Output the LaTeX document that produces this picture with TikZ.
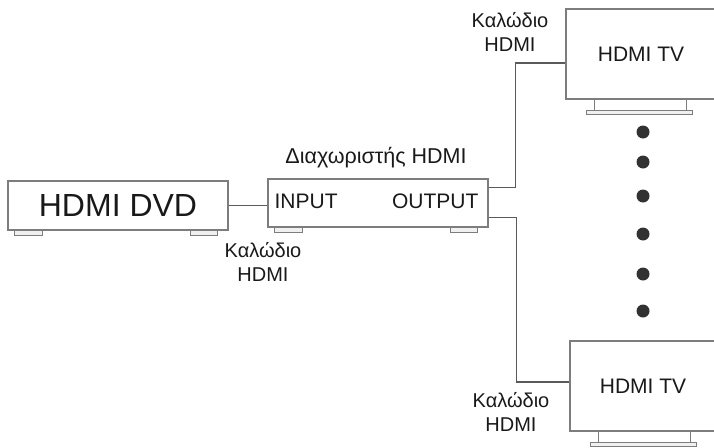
\documentclass[tikz,border=0pt]{standalone}
\usepackage{fontspec}
\setmainfont{Liberation Sans}
\usetikzlibrary{positioning,calc}
\definecolor{LineGray}{RGB}{90,90,90}
\definecolor{BoxGray}{RGB}{125,125,125}
\definecolor{TextDark}{RGB}{25,25,25}
\definecolor{DotDark}{RGB}{50,50,50}

\begin{document}
\begin{tikzpicture}[
    x=1pt, y=-1pt,
    every node/.style={inner sep=0pt, text=TextDark},
    device/.style={draw=BoxGray, line width=1.2pt, rectangle},
    cable/.style={draw=LineGray, line width=1.3pt},
    foot/.style={draw=BoxGray, line width=1pt, fill=gray!12},
    lbl/.style={align=center, font=\fontsize{20}{24}\selectfont},
  ]
  \useasboundingbox (0,0) rectangle (714,447);

  % Devices
  \node[device, minimum width=220pt, minimum height=49pt,
        font=\fontsize{32}{36}\selectfont] (dvd) at (118,205.5) {HDMI DVD};
  \node[device, minimum width=220pt, minimum height=48pt] (splitter) at (378,203) {};
  \node[device, minimum width=150pt, minimum height=90pt,
        font=\fontsize{21}{24}\selectfont] (tv1) at (641,54) {HDMI TV};
  \node[device, minimum width=146pt, minimum height=90pt,
        font=\fontsize{21}{24}\selectfont] (tv2) at (643,386) {HDMI TV};

  % Splitter ports
  \node[anchor=west, font=\fontsize{21}{24}\selectfont] (input)
    at ([xshift=7pt, yshift=2pt]splitter.west) {INPUT};
  \node[anchor=east, font=\fontsize{21}{24}\selectfont] (output)
    at ([xshift=-10pt, yshift=2pt]splitter.east) {OUTPUT};

  % Feet and stands
  \foreach \dev in {dvd,splitter} {
    \draw[foot] ([xshift=7pt]\dev.south west) rectangle ++(28,5);
    \draw[foot] ([xshift=-38pt]\dev.south east) rectangle ++(27,5);
  }
  \foreach \tv in {tv1,tv2} {
    \draw[foot] ([xshift=29pt]\tv.south west) -- ++(0,11);
    \draw[foot] ([xshift=121pt]\tv.south west) -- ++(0,11);
    \draw[foot] ([xshift=21pt]\tv.south west) ++(0,11) rectangle ++(106,4);
  }

  % Cables
  \coordinate (out1) at ([yshift=-9pt]splitter.north east);
  \coordinate (in1) at ([yshift=-9pt]tv1.west);
  \coordinate (out2) at ([yshift=10pt]splitter.south east);
  \coordinate (in2) at ([yshift=4pt]tv2.west);
  \draw[cable] (dvd.east) -- (dvd.east -| splitter.west);
  \draw[cable] (out1) -- ++(27,0) |- (in1);
  \draw[cable] (out2) -- ++(28,0) |- (in2);

  % More TVs
  \foreach \y in {132,162,196,234,274,311}
    \fill[DotDark] (643,\y) circle (6.5pt);

  % Labels
  \node[lbl, font=\fontsize{21.5}{24}\selectfont] (splitname) at (376,158) {Διαχωριστής HDMI};
  \node[lbl] (cable1) at (510,32) {Καλώδιο\\HDMI};
  \node[lbl] (cable0) at (263,262) {Καλώδιο\\HDMI};
  \node[lbl] (cable2) at (511,412) {Καλώδιο\\HDMI};
\end{tikzpicture}
\end{document}
